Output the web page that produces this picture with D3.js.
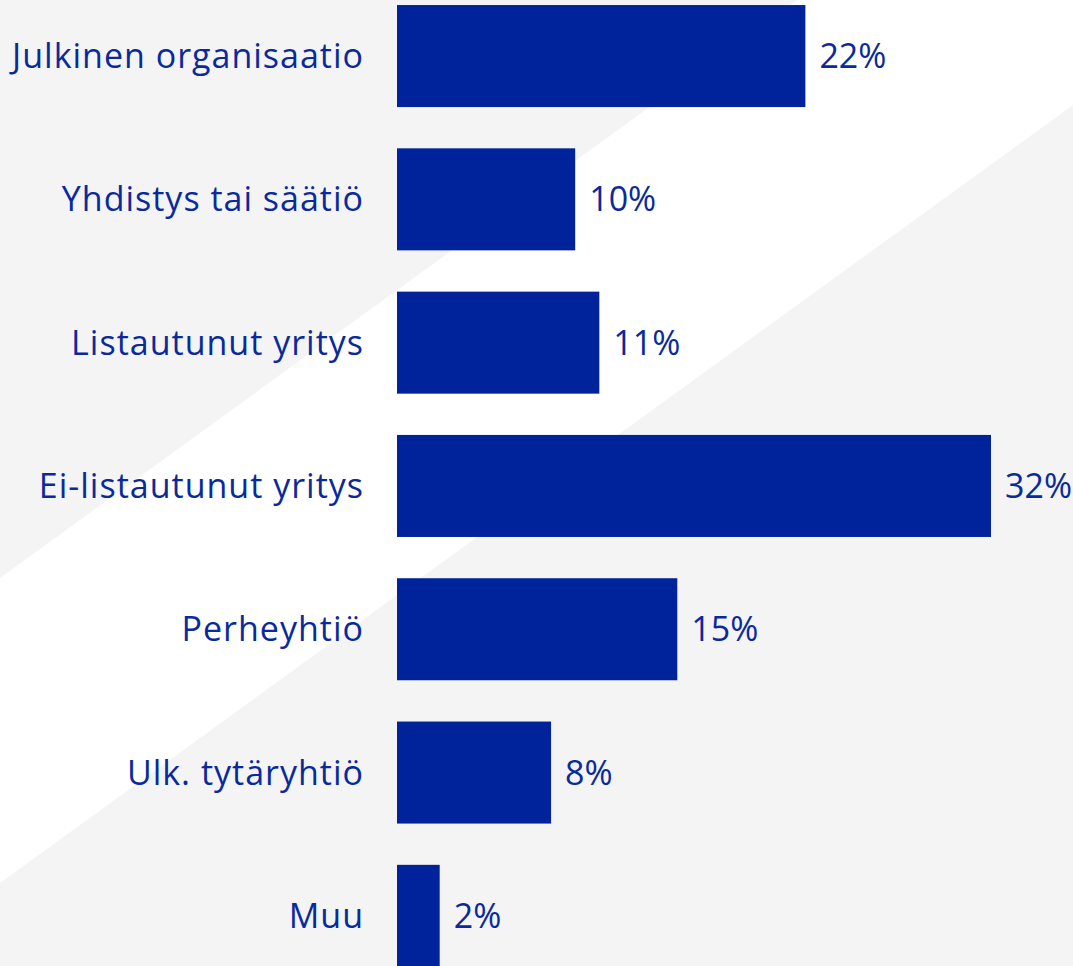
<!DOCTYPE html>
<html lang="fi">
<head>
    <meta charset="UTF-8">
    <title>Organisaatiotyyppi</title>
    <style>
        body {
            margin: 0;
            padding: 0;
            overflow: hidden;
            background: #f4f4f4;
        }
        text {
            font-family: 'Open Sans', sans-serif;
            font-size: 34px;
            fill: #0a2a9c;
        }
        .cat {
            letter-spacing: 1px;
        }
    </style>
</head>
<body>
    <svg id="chart"></svg>

    <script src="https://d3js.org/d3.v7.min.js"></script>
    <script>
        // data
        const categories = [
            "Julkinen organisaatio",
            "Yhdistys tai säätiö",
            "Listautunut yritys",
            "Ei-listautunut yritys",
            "Perheyhtiö",
            "Ulk. tytäryhtiö",
            "Muu"
        ];
        const shares = [22.0, 9.6, 10.9, 32.0, 15.1, 8.3, 2.3];

        const width = 1073;
        const height = 966;
        const barColor = "#00239c";

        const svg = d3.select("#chart")
            .attr("width", width)
            .attr("height", height);

        // background: light grey with a white diagonal band
        const slope = 0.725;
        svg.append("rect")
            .attr("width", width)
            .attr("height", height)
            .attr("fill", "#f4f4f4");
        svg.append("polygon")
            .attr("points", [
                [0, 578], [578 / slope, 0], [width, 0],
                [width, 883 - slope * width], [0, 883]
            ].map(p => p.join(",")).join(" "))
            .attr("fill", "#ffffff");

        const data = categories.map((c, i) => ({ name: c, value: shares[i] }));

        const x = d3.scaleLinear()
            .domain([0, 32])
            .range([397, 991]);

        const y = d3.scaleBand()
            .domain(categories)
            .range([-15.6, 987.5])
            .paddingInner(0.288)
            .paddingOuter(0.144);

        svg.selectAll(".bar")
            .data(data)
          .enter().append("rect")
            .attr("class", "bar")
            .attr("x", x(0))
            .attr("y", d => y(d.name))
            .attr("width", d => x(d.value) - x(0))
            .attr("height", y.bandwidth())
            .attr("fill", barColor);

        // category labels, right aligned left of the bars
        svg.selectAll(".cat")
            .data(data)
          .enter().append("text")
            .attr("class", "cat")
            .attr("x", x(0) - 33)
            .attr("y", d => y(d.name) + y.bandwidth() / 2 + 12)
            .attr("text-anchor", "end")
            .text(d => d.name);

        // value labels
        svg.selectAll(".val")
            .data(data)
          .enter().append("text")
            .attr("class", "val")
            .attr("x", d => x(d.value) + 14)
            .attr("y", d => y(d.name) + y.bandwidth() / 2 + 12)
            .text(d => Math.round(d.value) + "%");
    </script>
</body>
</html>
